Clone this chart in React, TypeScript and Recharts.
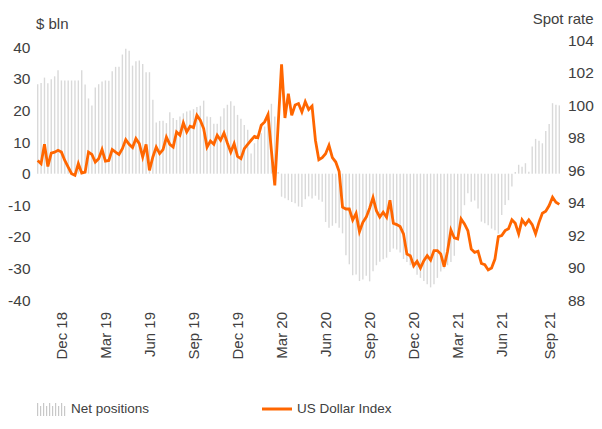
import React from 'react';
import { ComposedChart, Bar, Line, XAxis, YAxis, Legend } from 'recharts';

// CFTC net positions on the US dollar ($ bln), weekly from 16 Oct 2018
const netPositions = [
  28.3, 28.7, 30.4, 28.6, 29.9, 30.8, 32.7, 29.5, 29.5, 29.5,
  29.5, 29.5, 29.5, 32.7, 28.2, 23.8, 21.6, 27.3, 28.3, 29.2,
  29.5, 29.4, 32.4, 33.8, 33.8, 37.7, 39.5, 38.9, 34.2, 35.6,
  35.8, 34.7, 32.1, 32.1, 23.4, 16.2, 16.7, 16.7, 16.0, 19.4,
  17.6, 17.0, 18.1, 19.1, 19.7, 20.0, 20.4, 21.1, 21.5, 23.1,
  18.1, 17.9, 15.8, 15.8, 18.1, 20.7, 21.8, 22.9, 21.5, 18.6,
  17.4, 15.4, 13.9, 6.4, 9.6, 10.9, 12.8, 14.9, 17.0, 22.1,
  18.1, 0.5, -7.3, -7.8, -8.4, -9.0, -9.4, -10.4, -10.6, -8.1,
  -7.2, -7.9, -7.0, -8.3, -8.9, -15.3, -17.1, -16.5, -15.7, -17.1,
  -18.9, -25.8, -28.7, -32.2, -31.9, -34.0, -33.5, -32.3, -34.1, -30.9,
  -29.0, -27.9, -27.1, -26.6, -24.8, -23.7, -24, -25, -27, -28,
  -29, -30, -32, -33, -34, -35, -36, -35, -33, -31,
  -30, -29, -28, -26, -21, -15, -10, -6.2, -8.9, -8.5,
  -11, -15.2, -15.7, -16.3, -17.4, -17.9, -19.0, -13.1, -9.9, -8.4,
  -4.1, 0.5, 2.8, 2.2, 3.3, 0.6, 8.6, 11.0, 10.4, 9.6,
  13.5, 15.7, 22.3, 21.8, 21.6,
];

// US Dollar Index spot rate, same weeks
const dollarIndex = [
  96.59, 96.39, 97.58, 96.22, 97.04, 97.10, 97.21, 97.10, 96.59, 96.18,
  95.77, 95.67, 96.39, 95.81, 95.87, 97.10, 96.96, 96.49, 96.70, 97.26,
  96.55, 96.59, 97.26, 97.10, 96.96, 97.31, 97.87, 97.58, 97.38, 97.93,
  97.62, 96.80, 97.58, 95.98, 96.80, 97.41, 97.01, 97.26, 98.03, 97.58,
  97.41, 98.34, 98.14, 98.90, 98.34, 98.69, 98.61, 99.37, 99.06, 98.55,
  97.41, 97.78, 97.58, 98.14, 97.83, 98.28, 97.66, 97.10, 97.62, 96.84,
  96.70, 97.31, 97.58, 97.83, 98.07, 97.99, 98.75, 98.96, 99.41, 97.2,
  95.05, 98.8, 102.5, 99.2, 100.7, 99.37, 100.0, 100.09, 99.57, 100.2,
  99.72, 99.93, 97.83, 96.63, 96.76, 97.0, 97.52, 96.76, 96.49, 95.9,
  93.71, 93.6, 93.6, 92.92, 93.33, 92.2, 92.78, 93.1, 93.65, 94.3,
  93.5, 93.1, 93.4, 93.09, 94.14, 92.72, 92.64, 92.52, 92.07, 90.83,
  90.73, 90.11, 90.38, 89.97, 90.42, 90.73, 90.46, 91.04, 91.04, 90.83,
  90.05, 91.0, 92.31, 91.82, 91.76, 92.99, 92.68, 92.27, 91.14, 90.93,
  91.0, 90.25, 90.17, 89.85, 89.97, 90.52, 91.9, 91.96, 92.27, 92.38,
  92.93, 92.72, 92.07, 92.93, 92.64, 92.93, 92.64, 92.07, 92.78, 93.34,
  93.46, 93.81, 94.33, 94.02, 93.88,
];

// weekly report dates (Tuesdays)
const weeks = netPositions.map((_, i) =>
  new Date(Date.UTC(2018, 9, 16 + 7 * i)).toISOString().slice(0, 10)
);

const tickDates = [
  '2018-12-04', '2019-03-05', '2019-06-04', '2019-09-03', '2019-12-03', '2020-03-03',
  '2020-06-02', '2020-09-01', '2020-12-01', '2021-03-02', '2021-06-01', '2021-09-07',
];
const tickLabels = [
  'Dec 18', 'Mar 19', 'Jun 19', 'Sep 19', 'Dec 19', 'Mar 20',
  'Jun 20', 'Sep 20', 'Dec 20', 'Mar 21', 'Jun 21', 'Sep 21',
];

const leftTicks = [-40, -30, -20, -10, 0, 10, 20, 30, 40];
const rightTicks = [88, 90, 92, 94, 96, 98, 100, 102, 104];

const FONT = '"Liberation Sans", Arial, sans-serif';
const TEXT = '#404040';
const ORANGE = '#FF6600';
const GREY = '#D9D9D9';

const chartData = weeks.map((week, i) => ({
  week,
  net: netPositions[i],
  usd: dollarIndex[i],
}));

const DateTick = (props: any) => {
  const { x, y, payload } = props;
  const k = tickDates.indexOf(payload.value);
  if (k < 0) return null;
  return (
    <text
      x={x}
      y={y + 12}
      transform={`rotate(-90, ${x}, ${y + 12})`}
      textAnchor="end"
      dominantBaseline="central"
      fill={TEXT}
      fontSize={15}
      fontFamily={FONT}
    >
      {tickLabels[k]}
    </text>
  );
};

const ValueTick = (props: any) => {
  const { x, y, payload, textAnchor } = props;
  return (
    <text x={x} y={y} dy="0.355em" textAnchor={textAnchor} fill={TEXT} fontSize={15.5} fontFamily={FONT}>
      {String(payload.value)}
    </text>
  );
};

const LegendBox = () => (
  <div style={{ position: 'relative', height: 22, fontFamily: FONT, fontSize: 13.5, color: TEXT }}>
    <div style={{ position: 'absolute', left: 28, top: 3, display: 'flex', alignItems: 'center' }}>
      <svg width={30} height={14} style={{ marginRight: 5 }}>
        {Array.from({ length: 10 }).map((_, i) => (
          <rect key={i} x={1 + i * 3} y={i % 2 ? 4 : 1} width={1.2} height={i % 2 ? 10 : 13} fill="#C8C8C8" />
        ))}
      </svg>
      <span>Net positions</span>
    </div>
    <div style={{ position: 'absolute', left: 254, top: 3, display: 'flex', alignItems: 'center' }}>
      <svg width={30} height={14} style={{ marginRight: 5 }}>
        <line x1={0} y1={7} x2={30} y2={7} stroke={ORANGE} strokeWidth={3} />
      </svg>
      <span>US Dollar Index</span>
    </div>
  </div>
);

// chart sits inside the body margin: page x 8..594
const App: React.FC = () => {
  return (
    <div style={{ width: 586, height: 413 }}>
      <ComposedChart
        width={586}
        height={413}
        data={chartData}
        margin={{ top: 32, right: 0, bottom: 51, left: 0 }}
        barCategoryGap={0}
      >
        <XAxis
          dataKey="week"
          interval={0}
          tick={<DateTick />}
          tickLine={false}
          axisLine={false}
          tickSize={0}
          tickMargin={0}
          height={70}
        />
        <YAxis
          yAxisId="left"
          orientation="left"
          width={28}
          domain={[-40, 42.3]}
          ticks={leftTicks}
          tickLine={false}
          axisLine={false}
          tickSize={0}
          tickMargin={5.5}
          tick={<ValueTick />}
          label={{
            content: () => (
              <text x={28} y={21} fill={TEXT} fontSize={15} fontFamily={FONT}>
                $ bln
              </text>
            ),
          }}
        />
        <YAxis
          yAxisId="right"
          orientation="right"
          width={33}
          domain={[88, 104]}
          ticks={rightTicks}
          tickLine={false}
          axisLine={false}
          tickSize={0}
          tickMargin={7}
          tick={<ValueTick />}
          label={{
            content: () => (
              <text x={585.5} y={16} textAnchor="end" fill={TEXT} fontSize={15} fontFamily={FONT}>
                Spot rate
              </text>
            ),
          }}
        />
        <Legend
          layout="horizontal"
          verticalAlign="middle"
          align="center"
          content={<LegendBox />}
          wrapperStyle={{ top: 390, left: 0, width: 586, height: 22 }}
        />
        <Bar
          yAxisId="left"
          dataKey="net"
          name="Net positions"
          fill={GREY}
          barSize={1.4}
          isAnimationActive={false}
        />
        <Line
          yAxisId="right"
          dataKey="usd"
          name="US Dollar Index"
          type="linear"
          stroke={ORANGE}
          strokeWidth={2.8}
          dot={false}
          activeDot={false}
          isAnimationActive={false}
        />
      </ComposedChart>
    </div>
  );
};

export default App;
